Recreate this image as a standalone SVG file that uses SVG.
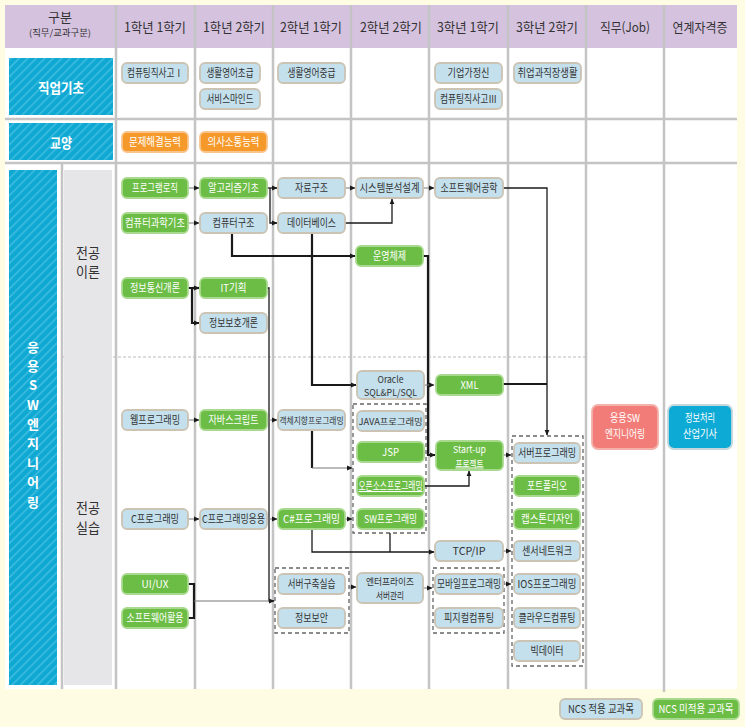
<svg xmlns="http://www.w3.org/2000/svg" width="745" height="727" viewBox="0 0 745 727">
<defs>
<pattern id="st" width="6" height="6" patternUnits="userSpaceOnUse" patternTransform="rotate(45)"><rect width="6" height="6" fill="#0ea8d3"/><rect width="1.6" height="6" fill="#3fbce0"/></pattern>
<marker id="a" markerWidth="6" markerHeight="6" refX="5" refY="3" orient="auto" markerUnits="userSpaceOnUse"><path d="M0,0.6 L5.5,3 L0,5.4z" fill="#1a1a1a"/></marker>
</defs>
<style>
text{font-family:"Noto Sans CJK KR","Noto Sans",sans-serif}
.b{fill:#c4e0ec;stroke:#cbc3b4;stroke-width:1.8}
.g{fill:#6cbd45;stroke:#a8d98e;stroke-width:1.8}
.o{fill:#f5992b;stroke:#f8c48c;stroke-width:1.8}
.tb{font-size:11px;fill:#333;text-anchor:middle}
.tw{font-size:11px;fill:#fff;text-anchor:middle}
.s2{font-size:9.5px}
.s3{font-size:8.8px}
.hd{font-size:13px;fill:#333;text-anchor:middle}
.sec{font-size:14px;font-weight:bold;fill:#fff;text-anchor:middle}
.vt{font-size:13px;font-weight:bold;fill:#fff;text-anchor:middle}
.cat{font-size:13.5px;fill:#333;text-anchor:middle}
.grid{stroke:#c4c4c4;stroke-width:2.5;fill:none}
.grp{fill:none;stroke:#666;stroke-width:1.3;stroke-dasharray:4 3}
.ln{fill:none;stroke:#777;stroke-width:1}
.lk{fill:none;stroke:#1a1a1a;stroke-width:1.3}
.lt{fill:none;stroke:#1a1a1a;stroke-width:2.2}
</style>
<rect width="745" height="727" fill="#fefce3"/>
<rect x="5" y="5" width="732" height="43" fill="#d5c2df"/>
<rect x="5" y="48" width="732" height="641" fill="#fff"/>
<g id="grid">
<path class="grid" d="M116,5V689M195,5V689M273,5V689M351,5V689M429,5V689M508,5V689M586,5V689M664,5V692M62,163V689"/>
<path class="grid" d="M5,119H737M5,163H737"/>
<path d="M63,357H586" stroke="#bbb" stroke-width="1" stroke-dasharray="3 2" fill="none"/>
</g>
<g id="header">
<text x="60" y="22" class="hd">구분</text>
<text x="60" y="36" style="font-size:9px;fill:#333;text-anchor:middle" textLength="62" lengthAdjust="spacingAndGlyphs">(직무/교과구분)</text>
<text x="155" y="32" class="hd" textLength="62" lengthAdjust="spacingAndGlyphs">1학년 1학기</text>
<text x="234" y="32" class="hd" textLength="62" lengthAdjust="spacingAndGlyphs">1학년 2학기</text>
<text x="311" y="32" class="hd" textLength="62" lengthAdjust="spacingAndGlyphs">2학년 1학기</text>
<text x="391" y="32" class="hd" textLength="62" lengthAdjust="spacingAndGlyphs">2학년 2학기</text>
<text x="468" y="32" class="hd" textLength="62" lengthAdjust="spacingAndGlyphs">3학년 1학기</text>
<text x="547" y="32" class="hd" textLength="62" lengthAdjust="spacingAndGlyphs">3학년 2학기</text>
<text x="625" y="32" class="hd" textLength="50" lengthAdjust="spacingAndGlyphs">직무(Job)</text>
<text x="700" y="32" class="hd" textLength="55" lengthAdjust="spacingAndGlyphs">연계자격증</text>
</g>
<g id="cat-basic"><rect x="9" y="58" width="104" height="57" fill="url(#st)"/><text x="61" y="93" class="sec" textLength="46" lengthAdjust="spacingAndGlyphs">직업기초</text></g>
<g id="cat-liberal"><rect x="9" y="123" width="104" height="37" fill="url(#st)"/><text x="61" y="148" class="sec" textLength="22" lengthAdjust="spacingAndGlyphs">교양</text></g>
<g id="cat-sw"><rect x="9" y="170" width="48" height="515" fill="url(#st)"/>
<text class="vt" x="33" y="352">응</text><text class="vt" x="33" y="371">용</text><text class="vt" x="33" y="390">S</text><text class="vt" x="33" y="410">W</text><text class="vt" x="33" y="429">엔</text><text class="vt" x="33" y="448">지</text><text class="vt" x="33" y="468">니</text><text class="vt" x="33" y="487">어</text><text class="vt" x="33" y="507">링</text></g>
<g id="cat-major"><rect x="64" y="170" width="48" height="515" fill="#e6e6e8"/>
<text class="cat" x="88" y="257.5" textLength="24" lengthAdjust="spacingAndGlyphs">전공</text><text class="cat" x="88" y="277" textLength="24" lengthAdjust="spacingAndGlyphs">이론</text>
<text class="cat" x="88" y="513" textLength="24" lengthAdjust="spacingAndGlyphs">전공</text><text class="cat" x="88" y="532.5" textLength="24" lengthAdjust="spacingAndGlyphs">실습</text></g>

<g id="groups">
<rect class="grp" x="275" y="568" width="74" height="65"/>
<rect class="grp" x="353" y="404" width="73" height="129"/>
<rect class="grp" x="433" y="568" width="71" height="65"/>
<rect class="grp" x="512" y="436" width="71" height="230"/>
</g>

<g id="connectors">
<path class="ln" d="M188,188H199" marker-end="url(#a)"/>
<path class="ln" d="M188,223H199" marker-end="url(#a)"/>
<path class="lk" d="M267,188H277" marker-end="url(#a)"/>
<path class="lk" d="M270,188V223H277" marker-end="url(#a)"/>
<path class="ln" d="M345,188H355" marker-end="url(#a)"/>
<path class="lk" d="M345,223H392V199" marker-end="url(#a)"/>
<path class="ln" d="M423,188H434" marker-end="url(#a)"/>
<path class="lk" d="M503,188H547V435" marker-end="url(#a)"/>
<path class="lt" d="M232,233V256H355" marker-end="url(#a)"/>
<path class="lt" d="M312,233V385H356" marker-end="url(#a)"/>
<path class="lt" d="M423,256H428V455H435" marker-end="url(#a)"/>
<path class="ln" d="M424,385H434" marker-end="url(#a)"/>
<path class="lt" d="M503,384H547"/>
<path class="lt" d="M188,288H192V323H199" marker-end="url(#a)"/>
<path class="lt" d="M192,288H199" marker-end="url(#a)"/>
<path class="lk" d="M267,288H269V601H274" marker-end="url(#a)"/>
<path class="ln" d="M188,420H199" marker-end="url(#a)"/>
<path class="ln" d="M267,420H277" marker-end="url(#a)"/>
<path class="lt" d="M312,431V468"/>
<path class="ln" d="M312,468H352" marker-end="url(#a)"/>
<path class="ln" d="M188,519H199" marker-end="url(#a)"/>
<path class="ln" d="M267,519H277" marker-end="url(#a)"/>
<path class="ln" d="M345,519H352" marker-end="url(#a)"/>
<path class="lk" d="M312,529V552H434" marker-end="url(#a)"/>
<path class="lk" d="M390,533V552"/>
<path class="lk" d="M424,486H469V471" marker-end="url(#a)"/>
<path class="ln" d="M503,455H511" marker-end="url(#a)"/>
<path class="ln" d="M503,551H511" marker-end="url(#a)"/>
<path class="ln" d="M504,584H511" marker-end="url(#a)"/>
<path class="ln" d="M423,588H432" marker-end="url(#a)"/>
<path class="ln" d="M349,587H356" marker-end="url(#a)"/>
<path class="lt" d="M188,584H194V618H188"/>
<path class="ln" d="M194,601H269"/>
</g>

<g id="n1"><rect class="b" x="122" y="63" width="66" height="20" rx="5"/><text class="tb" x="155" y="77" textLength="56" lengthAdjust="spacingAndGlyphs">컴퓨팅직사고Ⅰ</text></g>
<g id="n2"><rect class="b" x="200" y="63" width="60" height="20" rx="5"/><text class="tb" x="230" y="77" textLength="47" lengthAdjust="spacingAndGlyphs">생활영어초급</text></g>
<g id="n3"><rect class="b" x="200" y="89" width="60" height="20" rx="5"/><text class="tb" x="230" y="103" textLength="47" lengthAdjust="spacingAndGlyphs">서비스마인드</text></g>
<g id="n4"><rect class="b" x="278" y="63" width="67" height="20" rx="5"/><text class="tb" x="311.5" y="77" textLength="48" lengthAdjust="spacingAndGlyphs">생활영어중급</text></g>
<g id="n5"><rect class="b" x="435" y="63" width="67" height="20" rx="5"/><text class="tb" x="468.5" y="77" textLength="42" lengthAdjust="spacingAndGlyphs">기업가정신</text></g>
<g id="n6"><rect class="b" x="435" y="89" width="67" height="20" rx="5"/><text class="tb" x="468.5" y="103" textLength="57" lengthAdjust="spacingAndGlyphs">컴퓨팅직사고Ⅲ</text></g>
<g id="n7"><rect class="b" x="514" y="63" width="67" height="20" rx="5"/><text class="tb" x="547.5" y="77" textLength="60" lengthAdjust="spacingAndGlyphs">취업과직장생활</text></g>
<g id="n8"><rect class="o" x="122" y="132" width="66" height="20" rx="5"/><text class="tw" x="155" y="146" textLength="52" lengthAdjust="spacingAndGlyphs">문제해결능력</text></g>
<g id="n9"><rect class="o" x="200" y="132" width="67" height="20" rx="5"/><text class="tw" x="233.5" y="146" textLength="52" lengthAdjust="spacingAndGlyphs">의사소통능력</text></g>

<g id="n10"><rect class="g" x="122" y="178" width="66" height="20" rx="5"/><text class="tw" x="155" y="192" textLength="46" lengthAdjust="spacingAndGlyphs">프로그램로직</text></g>
<g id="n11"><rect class="g" x="200" y="178" width="67" height="20" rx="5"/><text class="tw" x="233.5" y="192" textLength="51" lengthAdjust="spacingAndGlyphs">알고리즘기초</text></g>
<g id="n12"><rect class="b" x="278" y="178" width="67" height="20" rx="5"/><text class="tb" x="311.5" y="192" textLength="33" lengthAdjust="spacingAndGlyphs">자료구조</text></g>
<g id="n13"><rect class="b" x="356" y="178" width="67" height="20" rx="5"/><text class="tb" x="389.5" y="192" textLength="60" lengthAdjust="spacingAndGlyphs">시스템분석설계</text></g>
<g id="n14"><rect class="b" x="435" y="178" width="68" height="20" rx="5"/><text class="tb" x="469" y="192" textLength="57" lengthAdjust="spacingAndGlyphs">소프트웨어공학</text></g>
<g id="n15"><rect class="g" x="122" y="213" width="66" height="20" rx="5"/><text class="tw" x="155" y="227" textLength="60" lengthAdjust="spacingAndGlyphs">컴퓨터과학기초</text></g>
<g id="n16"><rect class="b" x="200" y="213" width="67" height="20" rx="5"/><text class="tb" x="233.5" y="227" textLength="42" lengthAdjust="spacingAndGlyphs">컴퓨터구조</text></g>
<g id="n17"><rect class="b" x="278" y="213" width="67" height="20" rx="5"/><text class="tb" x="311.5" y="227" textLength="49" lengthAdjust="spacingAndGlyphs">데이터베이스</text></g>
<g id="n18"><rect class="g" x="356" y="246" width="67" height="20" rx="5"/><text class="tw" x="389.5" y="260" textLength="33" lengthAdjust="spacingAndGlyphs">운영체제</text></g>
<g id="n19"><rect class="g" x="122" y="278" width="66" height="20" rx="5"/><text class="tw" x="155" y="292" textLength="50" lengthAdjust="spacingAndGlyphs">정보통신개론</text></g>
<g id="n20"><rect class="g" x="200" y="278" width="67" height="20" rx="5"/><text class="tw" x="233.5" y="292" textLength="26" lengthAdjust="spacingAndGlyphs">IT기획</text></g>
<g id="n21"><rect class="b" x="200" y="313" width="67" height="20" rx="5"/><text class="tb" x="233.5" y="327" textLength="49" lengthAdjust="spacingAndGlyphs">정보보호개론</text></g>

<g id="n22"><rect class="b" x="357" y="371" width="67" height="28" rx="5"/><text class="tb s2" x="390.5" y="382.5" textLength="26" lengthAdjust="spacingAndGlyphs">Oracle</text><text class="tb s2" x="390.5" y="396" textLength="53" lengthAdjust="spacingAndGlyphs">SQL&amp;PL/SQL</text></g>
<g id="n23"><rect class="g" x="436" y="375" width="67" height="20" rx="5"/><text class="tw" x="469.5" y="389" textLength="18" lengthAdjust="spacingAndGlyphs">XML</text></g>
<g id="n24"><rect class="b" x="122" y="410" width="66" height="20" rx="5"/><text class="tb" x="155" y="424" textLength="50" lengthAdjust="spacingAndGlyphs">웹프로그래밍</text></g>
<g id="n25"><rect class="g" x="200" y="410" width="67" height="20" rx="5"/><text class="tw" x="233.5" y="424" textLength="50" lengthAdjust="spacingAndGlyphs">자바스크립트</text></g>
<g id="n26"><rect class="b" x="278" y="410" width="67" height="20" rx="5"/><text class="tb s3" x="311.5" y="423.5" textLength="64" lengthAdjust="spacingAndGlyphs">객체지향프로그래밍</text></g>
<g id="n27"><rect class="b" x="357" y="411" width="67" height="20" rx="5"/><text class="tb s3" x="390.5" y="424.5" textLength="64" lengthAdjust="spacingAndGlyphs">JAVA프로그래밍</text></g>
<g id="n28"><rect class="g" x="357" y="442" width="67" height="20" rx="5"/><text class="tw" x="390.5" y="456" textLength="17" lengthAdjust="spacingAndGlyphs">JSP</text></g>
<g id="n29"><rect class="g" x="357" y="476" width="67" height="20" rx="5"/><text class="tw" x="390.5" y="490" textLength="64" lengthAdjust="spacingAndGlyphs" text-decoration="underline">오픈소스프로그래밍</text></g>
<g id="n30"><rect class="g" x="357" y="509" width="67" height="20" rx="5"/><text class="tw" x="390.5" y="523" textLength="53" lengthAdjust="spacingAndGlyphs">SW프로그래밍</text></g>
<g id="n31"><rect class="b" x="122" y="509" width="66" height="20" rx="5"/><text class="tb" x="155" y="523" textLength="48" lengthAdjust="spacingAndGlyphs">C프로그래밍</text></g>
<g id="n32"><rect class="b" x="200" y="509" width="67" height="20" rx="5"/><text class="tb" x="233.5" y="523" textLength="63" lengthAdjust="spacingAndGlyphs">C프로그래밍응용</text></g>
<g id="n33"><rect class="g" x="278" y="509" width="67" height="20" rx="5"/><text class="tw" x="311.5" y="523" textLength="57" lengthAdjust="spacingAndGlyphs">C#프로그래밍</text></g>
<g id="n34"><rect class="g" x="436" y="441" width="67" height="29" rx="5"/><text class="tw s2" x="469.5" y="453" textLength="33" lengthAdjust="spacingAndGlyphs">Start-up</text><text class="tw s2" x="469.5" y="466.5" textLength="28" lengthAdjust="spacingAndGlyphs" text-decoration="underline">프로젝트</text></g>
<g id="n35"><rect class="b" x="514" y="443" width="66" height="20" rx="5"/><text class="tb" x="547" y="457" textLength="58" lengthAdjust="spacingAndGlyphs">서버프로그래밍</text></g>
<g id="n36"><rect class="g" x="514" y="476" width="66" height="20" rx="5"/><text class="tw" x="547" y="490" textLength="40" lengthAdjust="spacingAndGlyphs">포트폴리오</text></g>
<g id="n37"><rect class="g" x="514" y="509" width="66" height="20" rx="5"/><text class="tw" x="547" y="523" textLength="52" lengthAdjust="spacingAndGlyphs">캡스톤디자인</text></g>
<g id="n38"><rect class="b" x="514" y="541" width="66" height="20" rx="5"/><text class="tb" x="547" y="555" textLength="50" lengthAdjust="spacingAndGlyphs">센서네트워크</text></g>
<g id="n39"><rect class="b" x="435" y="541" width="68" height="20" rx="5"/><text class="tb" x="469" y="555" textLength="33" lengthAdjust="spacingAndGlyphs">TCP/IP</text></g>
<g id="n40"><rect class="b" x="514" y="574" width="66" height="20" rx="5"/><text class="tb" x="547" y="588" textLength="59" lengthAdjust="spacingAndGlyphs">IOS프로그래밍</text></g>
<g id="n41"><rect class="b" x="514" y="608" width="66" height="20" rx="5"/><text class="tb" x="547" y="622" textLength="57" lengthAdjust="spacingAndGlyphs">클라우드컴퓨팅</text></g>
<g id="n42"><rect class="b" x="514" y="641" width="66" height="20" rx="5"/><text class="tb" x="547" y="655" textLength="33" lengthAdjust="spacingAndGlyphs">빅데이터</text></g>
<g id="n43"><rect class="b" x="435" y="574" width="68" height="20" rx="5"/><text class="tb" x="469" y="588" textLength="64" lengthAdjust="spacingAndGlyphs">모바일프로그래밍</text></g>
<g id="n44"><rect class="b" x="435" y="608" width="68" height="20" rx="5"/><text class="tb" x="469" y="622" textLength="50" lengthAdjust="spacingAndGlyphs">피지컬컴퓨팅</text></g>
<g id="n45"><rect class="b" x="357" y="573" width="66" height="30" rx="5"/><text class="tb s2" x="390" y="585" textLength="48" lengthAdjust="spacingAndGlyphs">엔터프라이즈</text><text class="tb s2" x="390" y="598.5" textLength="28" lengthAdjust="spacingAndGlyphs">서버관리</text></g>
<g id="n46"><rect class="b" x="278" y="574" width="67" height="20" rx="5"/><text class="tb" x="311.5" y="588" textLength="48" lengthAdjust="spacingAndGlyphs">서버구축실습</text></g>
<g id="n47"><rect class="b" x="278" y="608" width="67" height="20" rx="5"/><text class="tb" x="311.5" y="622" textLength="33" lengthAdjust="spacingAndGlyphs">정보보안</text></g>
<g id="n48"><rect class="g" x="122" y="574" width="66" height="20" rx="5"/><text class="tw" x="155" y="588" textLength="27" lengthAdjust="spacingAndGlyphs">UI/UX</text></g>
<g id="n49"><rect class="g" x="122" y="608" width="66" height="20" rx="5"/><text class="tw" x="155" y="622" textLength="57" lengthAdjust="spacingAndGlyphs">소프트웨어활용</text></g>

<g id="job"><rect x="592" y="405" width="66" height="44" rx="6" fill="#f27d78" stroke="#f3b1aa" stroke-width="1.8"/><text class="tw" x="625" y="422" textLength="30" lengthAdjust="spacingAndGlyphs">응용SW</text><text class="tw" x="625" y="438" textLength="40" lengthAdjust="spacingAndGlyphs">엔지니어링</text></g>
<g id="cert"><rect x="668" y="405" width="64" height="44" rx="6" fill="#0eaad6" stroke="#c5d6dc" stroke-width="1.8"/><text class="tw" x="700" y="422" textLength="30" lengthAdjust="spacingAndGlyphs">정보처리</text><text class="tw" x="700" y="438" textLength="34" lengthAdjust="spacingAndGlyphs">산업기사</text></g>

<g id="legend">
<rect class="b" x="560" y="699" width="82" height="20" rx="5"/><text class="tb" x="601" y="713" textLength="66" lengthAdjust="spacingAndGlyphs">NCS 적용 교과목</text>
<rect class="g" x="653" y="699" width="86" height="20" rx="5"/><text class="tw" x="696" y="713" textLength="75" lengthAdjust="spacingAndGlyphs">NCS 미적용 교과목</text>
</g>
</svg>
